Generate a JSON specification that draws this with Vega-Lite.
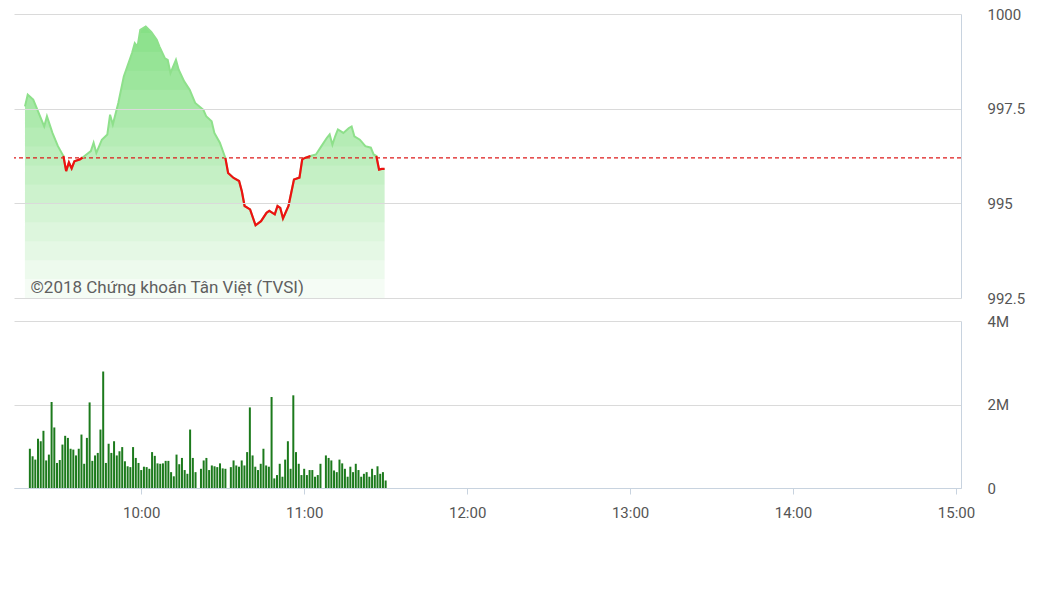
{
  "$schema": "https://vega.github.io/schema/vega-lite/v6.json",
  "background": "white",
  "padding": {"left": 13, "top": 7, "right": 5, "bottom": 5},
  "spacing": 8,
  "config": {
    "view": {"stroke": null},
    "font": "Roboto",
    "axis": {"labelFont": "Roboto", "labelColor": "#555555", "labelFontSize": 15, "title": null}
  },
  "vconcat": [
    {
      "width": 947,
      "height": 284,
      "data": {"name": "price", "format": {"parse": {"t": "date:'%H:%M'"}}},
      "layer": [
        {
          "mark": {"type": "area", "clip": true, "color": "#86e086"},
          "encoding": {
            "x": {
              "field": "t", "type": "temporal",
              "scale": {"domain": [{"year": 1900, "month": 1, "date": 1, "hours": 9, "minutes": 15}, {"year": 1900, "month": 1, "date": 1, "hours": 15, "minutes": 0}]},
              "axis": null
            },
            "y": {
              "field": "p", "type": "quantitative",
              "scale": {"domain": [992.5, 1000], "zero": false, "nice": false},
              "axis": {
                "orient": "right", "values": [992.5, 995, 997.5, 1000], "labelExpr": "'' + datum.value",
                "grid": true, "gridColor": "#dadada", "domain": true, "domainColor": "#c8d3df",
                "ticks": false, "labelPadding": 26, "labelAlign": "left", "zindex": 1
              }
            }
          }
        },
        {"data": {"values": [{}]}, "mark": {"type": "rect", "color": "white", "opacity": 0.066}, "encoding": {"y": {"datum": 992.5, "type": "quantitative"}, "y2": {"datum": 999.5}}},
        {"data": {"values": [{}]}, "mark": {"type": "rect", "color": "white", "opacity": 0.070}, "encoding": {"y": {"datum": 992.5, "type": "quantitative"}, "y2": {"datum": 999.0}}},
        {"data": {"values": [{}]}, "mark": {"type": "rect", "color": "white", "opacity": 0.076}, "encoding": {"y": {"datum": 992.5, "type": "quantitative"}, "y2": {"datum": 998.5}}},
        {"data": {"values": [{}]}, "mark": {"type": "rect", "color": "white", "opacity": 0.082}, "encoding": {"y": {"datum": 992.5, "type": "quantitative"}, "y2": {"datum": 998.0}}},
        {"data": {"values": [{}]}, "mark": {"type": "rect", "color": "white", "opacity": 0.090}, "encoding": {"y": {"datum": 992.5, "type": "quantitative"}, "y2": {"datum": 997.5}}},
        {"data": {"values": [{}]}, "mark": {"type": "rect", "color": "white", "opacity": 0.097}, "encoding": {"y": {"datum": 992.5, "type": "quantitative"}, "y2": {"datum": 997.0}}},
        {"data": {"values": [{}]}, "mark": {"type": "rect", "color": "white", "opacity": 0.109}, "encoding": {"y": {"datum": 992.5, "type": "quantitative"}, "y2": {"datum": 996.5}}},
        {"data": {"values": [{}]}, "mark": {"type": "rect", "color": "white", "opacity": 0.122}, "encoding": {"y": {"datum": 992.5, "type": "quantitative"}, "y2": {"datum": 996.0}}},
        {"data": {"values": [{}]}, "mark": {"type": "rect", "color": "white", "opacity": 0.137}, "encoding": {"y": {"datum": 992.5, "type": "quantitative"}, "y2": {"datum": 995.5}}},
        {"data": {"values": [{}]}, "mark": {"type": "rect", "color": "white", "opacity": 0.161}, "encoding": {"y": {"datum": 992.5, "type": "quantitative"}, "y2": {"datum": 995.0}}},
        {"data": {"values": [{}]}, "mark": {"type": "rect", "color": "white", "opacity": 0.192}, "encoding": {"y": {"datum": 992.5, "type": "quantitative"}, "y2": {"datum": 994.5}}},
        {"data": {"values": [{}]}, "mark": {"type": "rect", "color": "white", "opacity": 0.238}, "encoding": {"y": {"datum": 992.5, "type": "quantitative"}, "y2": {"datum": 994.0}}},
        {"data": {"values": [{}]}, "mark": {"type": "rect", "color": "white", "opacity": 0.308}, "encoding": {"y": {"datum": 992.5, "type": "quantitative"}, "y2": {"datum": 993.5}}},
        {"data": {"values": [{}]}, "mark": {"type": "rect", "color": "white", "opacity": 0.452}, "encoding": {"y": {"datum": 992.5, "type": "quantitative"}, "y2": {"datum": 993.0}}},
        {
          "data": {"values": [{}]},
          "mark": {"type": "rule", "color": "#dd1a1a", "strokeDash": [4, 3], "strokeWidth": 1.2},
          "encoding": {"y": {"datum": 996.2, "type": "quantitative"}}
        },
        {
          "mark": {"type": "line", "color": "#8ee08b", "strokeWidth": 2},
          "encoding": {
            "x": {"field": "t", "type": "temporal"},
            "y": {"field": "p", "type": "quantitative"}
          }
        },
        {
          "mark": {"type": "line", "color": "#ee1111", "strokeWidth": 2.2, "invalid": "break-paths-show-domains"},
          "encoding": {
            "x": {"field": "t", "type": "temporal"},
            "y": {"field": "r", "type": "quantitative"}
          }
        },
        {
          "data": {"values": [{}]},
          "mark": {"type": "text", "align": "left", "baseline": "alphabetic", "fontSize": 17, "font": "Roboto", "color": "#5f5f5f"},
          "encoding": {
            "x": {"datum": {"year": 1900, "month": 1, "date": 1, "hours": 9, "minutes": 21}, "type": "temporal"},
            "y": {"datum": 992.63, "type": "quantitative"},
            "text": {"value": "©2018 Chứng khoán Tân Việt (TVSI)"}
          }
        }
      ]
    },
    {
      "width": 947,
      "height": 167,
      "data": {"name": "vol", "format": {"parse": {"t": "date:'%H:%M'"}}},
      "mark": {"type": "bar", "color": "#1c7a1c", "width": 2},
      "encoding": {
        "x": {
          "field": "t", "type": "temporal",
          "scale": {"domain": [{"year": 1900, "month": 1, "date": 1, "hours": 9, "minutes": 15}, {"year": 1900, "month": 1, "date": 1, "hours": 15, "minutes": 0}]},
          "axis": {
            "values": [
              {"year": 1900, "month": 1, "date": 1, "hours": 10},
              {"year": 1900, "month": 1, "date": 1, "hours": 11},
              {"year": 1900, "month": 1, "date": 1, "hours": 12},
              {"year": 1900, "month": 1, "date": 1, "hours": 13},
              {"year": 1900, "month": 1, "date": 1, "hours": 14},
              {"year": 1900, "month": 1, "date": 1, "hours": 15}
            ],
            "format": "%H:%M", "grid": false, "domainColor": "#c8d3df", "tickColor": "#c8d3df",
            "tickSize": 6, "labelPadding": 11
          }
        },
        "y": {
          "field": "v", "type": "quantitative",
          "scale": {"domain": [0, 4000000], "nice": false},
          "axis": {
            "orient": "right", "values": [0, 2000000, 4000000],
            "labelExpr": "datum.value == 0 ? '0' : (datum.value / 1000000) + 'M'",
            "grid": true, "gridColor": "#dadada", "domain": true, "domainColor": "#c8d3df",
            "ticks": false, "labelPadding": 26, "labelAlign": "left"
          }
        }
      }
    }
  ],
  "datasets": {
    "price": [
      {"t": "09:19", "p": 997.56}, {"t": "09:20", "p": 997.87}, {"t": "09:22", "p": 997.74},
      {"t": "09:26", "p": 997.03}, {"t": "09:27", "p": 997.30}, {"t": "09:29", "p": 996.86},
      {"t": "09:31", "p": 996.51}, {"t": "09:33", "p": 996.25, "r": 996.25}, {"t": "09:34", "p": 995.85, "r": 995.85},
      {"t": "09:35", "p": 996.08, "r": 996.08}, {"t": "09:36", "p": 995.92, "r": 995.92}, {"t": "09:37", "p": 996.11, "r": 996.11},
      {"t": "09:39", "p": 996.16, "r": 996.16}, {"t": "09:40", "p": 996.21, "r": 996.21}, {"t": "09:43", "p": 996.38},
      {"t": "09:44", "p": 996.60}, {"t": "09:45", "p": 996.33}, {"t": "09:47", "p": 996.68},
      {"t": "09:49", "p": 996.82}, {"t": "09:50", "p": 997.34}, {"t": "09:51", "p": 997.08},
      {"t": "09:53", "p": 997.65}, {"t": "09:55", "p": 998.35}, {"t": "09:58", "p": 998.97},
      {"t": "09:59", "p": 999.23}, {"t": "10:00", "p": 999.14}, {"t": "10:01", "p": 999.58},
      {"t": "10:03", "p": 999.67}, {"t": "10:05", "p": 999.53}, {"t": "10:07", "p": 999.32},
      {"t": "10:08", "p": 999.14}, {"t": "10:10", "p": 998.83}, {"t": "10:11", "p": 998.79},
      {"t": "10:12", "p": 998.44}, {"t": "10:14", "p": 998.79}, {"t": "10:15", "p": 998.53},
      {"t": "10:17", "p": 998.22}, {"t": "10:19", "p": 998.00}, {"t": "10:21", "p": 997.65},
      {"t": "10:24", "p": 997.47}, {"t": "10:25", "p": 997.30}, {"t": "10:27", "p": 997.17},
      {"t": "10:28", "p": 996.86}, {"t": "10:30", "p": 996.60}, {"t": "10:32", "p": 996.20, "r": 996.20},
      {"t": "10:33", "p": 995.80, "r": 995.80}, {"t": "10:35", "p": 995.67, "r": 995.67}, {"t": "10:37", "p": 995.59, "r": 995.59},
      {"t": "10:38", "p": 995.32, "r": 995.32}, {"t": "10:39", "p": 994.93, "r": 994.93}, {"t": "10:41", "p": 994.84, "r": 994.84},
      {"t": "10:43", "p": 994.42, "r": 994.42}, {"t": "10:45", "p": 994.53, "r": 994.53}, {"t": "10:47", "p": 994.75, "r": 994.75},
      {"t": "10:48", "p": 994.80, "r": 994.80}, {"t": "10:50", "p": 994.71, "r": 994.71}, {"t": "10:51", "p": 994.93, "r": 994.93},
      {"t": "10:52", "p": 994.88, "r": 994.88}, {"t": "10:53", "p": 994.60, "r": 994.60}, {"t": "10:55", "p": 994.93, "r": 994.93},
      {"t": "10:56", "p": 995.28, "r": 995.28}, {"t": "10:57", "p": 995.63, "r": 995.63}, {"t": "10:59", "p": 995.68, "r": 995.68},
      {"t": "11:00", "p": 996.16, "r": 996.16}, {"t": "11:01", "p": 996.20, "r": 996.20}, {"t": "11:03", "p": 996.25, "r": 996.25},
      {"t": "11:05", "p": 996.29}, {"t": "11:07", "p": 996.51}, {"t": "11:09", "p": 996.73},
      {"t": "11:10", "p": 996.82}, {"t": "11:11", "p": 996.55}, {"t": "11:12", "p": 996.77},
      {"t": "11:13", "p": 996.95}, {"t": "11:15", "p": 996.86}, {"t": "11:17", "p": 996.99},
      {"t": "11:18", "p": 997.03}, {"t": "11:19", "p": 996.77}, {"t": "11:21", "p": 996.68},
      {"t": "11:23", "p": 996.51}, {"t": "11:25", "p": 996.47}, {"t": "11:26", "p": 996.29},
      {"t": "11:27", "p": 996.25, "r": 996.25}, {"t": "11:28", "p": 995.89, "r": 995.89}, {"t": "11:29", "p": 995.91, "r": 995.91},
      {"t": "11:30", "p": 995.91, "r": 995.91}
    ],
    "vol": [
      {"t": "09:19", "v": 940000}, {"t": "09:20", "v": 760000}, {"t": "09:21", "v": 680000}, {"t": "09:22", "v": 1180000},
      {"t": "09:23", "v": 1120000}, {"t": "09:24", "v": 1370000}, {"t": "09:25", "v": 660000}, {"t": "09:26", "v": 800000},
      {"t": "09:27", "v": 2060000}, {"t": "09:28", "v": 1450000}, {"t": "09:29", "v": 600000}, {"t": "09:30", "v": 670000},
      {"t": "09:31", "v": 1040000}, {"t": "09:32", "v": 1250000}, {"t": "09:33", "v": 1200000}, {"t": "09:34", "v": 940000},
      {"t": "09:35", "v": 920000}, {"t": "09:36", "v": 780000}, {"t": "09:37", "v": 940000}, {"t": "09:38", "v": 1280000},
      {"t": "09:39", "v": 580000}, {"t": "09:40", "v": 1200000}, {"t": "09:41", "v": 2050000}, {"t": "09:42", "v": 650000},
      {"t": "09:43", "v": 780000}, {"t": "09:44", "v": 840000}, {"t": "09:45", "v": 1400000}, {"t": "09:46", "v": 2790000},
      {"t": "09:47", "v": 600000}, {"t": "09:48", "v": 1060000}, {"t": "09:49", "v": 840000}, {"t": "09:50", "v": 1120000},
      {"t": "09:51", "v": 780000}, {"t": "09:52", "v": 880000}, {"t": "09:53", "v": 980000}, {"t": "09:54", "v": 640000},
      {"t": "09:55", "v": 520000}, {"t": "09:56", "v": 500000}, {"t": "09:57", "v": 980000}, {"t": "09:58", "v": 720000},
      {"t": "09:59", "v": 600000}, {"t": "10:00", "v": 430000}, {"t": "10:01", "v": 510000}, {"t": "10:02", "v": 500000},
      {"t": "10:03", "v": 460000}, {"t": "10:04", "v": 860000}, {"t": "10:05", "v": 770000}, {"t": "10:06", "v": 590000},
      {"t": "10:07", "v": 580000}, {"t": "10:08", "v": 590000}, {"t": "10:09", "v": 650000}, {"t": "10:10", "v": 650000},
      {"t": "10:11", "v": 380000}, {"t": "10:12", "v": 280000}, {"t": "10:13", "v": 800000}, {"t": "10:14", "v": 570000},
      {"t": "10:15", "v": 720000}, {"t": "10:16", "v": 430000}, {"t": "10:17", "v": 340000}, {"t": "10:18", "v": 1400000},
      {"t": "10:19", "v": 720000}, {"t": "10:20", "v": 380000}, {"t": "10:22", "v": 460000}, {"t": "10:23", "v": 660000},
      {"t": "10:24", "v": 720000}, {"t": "10:25", "v": 430000}, {"t": "10:26", "v": 540000}, {"t": "10:27", "v": 520000},
      {"t": "10:28", "v": 500000}, {"t": "10:29", "v": 590000}, {"t": "10:30", "v": 470000}, {"t": "10:31", "v": 460000},
      {"t": "10:33", "v": 500000}, {"t": "10:34", "v": 660000}, {"t": "10:35", "v": 540000}, {"t": "10:36", "v": 510000},
      {"t": "10:37", "v": 660000}, {"t": "10:38", "v": 540000}, {"t": "10:39", "v": 860000}, {"t": "10:40", "v": 1930000},
      {"t": "10:41", "v": 780000}, {"t": "10:42", "v": 510000}, {"t": "10:43", "v": 430000}, {"t": "10:44", "v": 580000},
      {"t": "10:45", "v": 940000}, {"t": "10:46", "v": 540000}, {"t": "10:47", "v": 510000}, {"t": "10:48", "v": 2180000},
      {"t": "10:49", "v": 230000}, {"t": "10:50", "v": 310000}, {"t": "10:51", "v": 580000}, {"t": "10:52", "v": 270000},
      {"t": "10:53", "v": 680000}, {"t": "10:54", "v": 1120000}, {"t": "10:55", "v": 460000}, {"t": "10:56", "v": 2220000},
      {"t": "10:57", "v": 860000}, {"t": "10:58", "v": 580000}, {"t": "10:59", "v": 310000}, {"t": "11:00", "v": 460000},
      {"t": "11:01", "v": 310000}, {"t": "11:02", "v": 430000}, {"t": "11:03", "v": 430000}, {"t": "11:04", "v": 270000},
      {"t": "11:05", "v": 310000}, {"t": "11:06", "v": 580000}, {"t": "11:08", "v": 780000}, {"t": "11:09", "v": 720000},
      {"t": "11:10", "v": 660000}, {"t": "11:11", "v": 420000}, {"t": "11:12", "v": 380000}, {"t": "11:13", "v": 680000},
      {"t": "11:14", "v": 590000}, {"t": "11:15", "v": 460000}, {"t": "11:16", "v": 270000}, {"t": "11:17", "v": 510000},
      {"t": "11:18", "v": 380000}, {"t": "11:19", "v": 580000}, {"t": "11:20", "v": 430000}, {"t": "11:21", "v": 270000},
      {"t": "11:22", "v": 340000}, {"t": "11:23", "v": 380000}, {"t": "11:24", "v": 270000}, {"t": "11:25", "v": 460000},
      {"t": "11:26", "v": 310000}, {"t": "11:27", "v": 520000}, {"t": "11:28", "v": 340000}, {"t": "11:29", "v": 380000},
      {"t": "11:30", "v": 180000}
    ]
  }
}
